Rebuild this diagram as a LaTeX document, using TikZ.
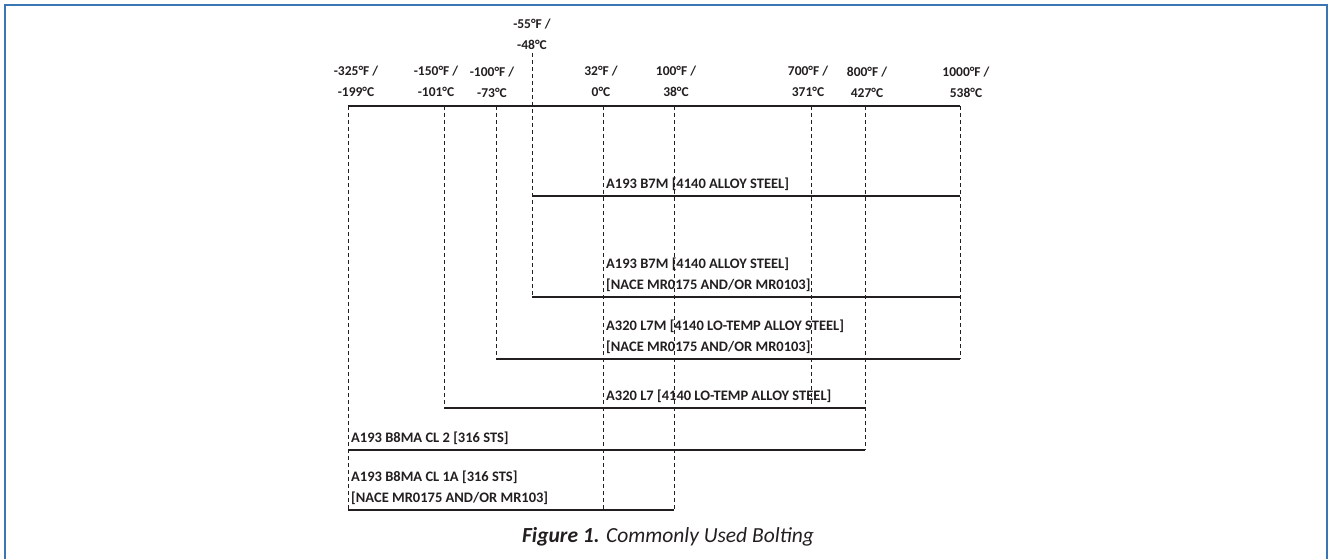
\documentclass[tikz,border=0pt]{standalone}
\usepackage{fontspec}
\setmainfont{Carlito}
\usetikzlibrary{positioning}
\definecolor{frameblue}{RGB}{58,118,178}
\definecolor{ink}{RGB}{35,31,32}
\tikzset{
  temp/.style={font=\bfseries\fontsize{13.5}{21}\selectfont, align=center, inner sep=0pt, text=ink},
  grade/.style={font=\bfseries\fontsize{14.5}{21}\selectfont, align=left, anchor=south west, inner sep=0pt, text=ink},
  guide/.style={draw=ink, line width=0.9pt, dash pattern=on 4pt off 3pt},
  bar/.style={draw=ink, line width=1.2pt},
  frame/.style={draw=frameblue, line width=2.2pt},
}
\begin{document}
\begin{tikzpicture}[x=1pt,y=-1pt]
      \useasboundingbox (0,0) rectangle (1332,559);
      \draw[frame] (5,559) -- (5,5) -- (1327,5) -- (1327,559);
      % temperature marks
      \draw
        (356,81) node[temp] (t325){-325°F /\\-199°C}
        (436,81) node[temp] (t150){-150°F /\\-101°C}
        (492,82) node[temp] (t100){-100°F /\\-73°C}
        (532,34) node[temp] (t55){-55°F /\\-48°C}
        (601,81) node[temp] (t32){32°F /\\0°C}
        (676,81) node[temp] (t100p){100°F /\\38°C}
        (808,81) node[temp] (t700){700°F /\\371°C}
        (867,82) node[temp] (t800){800°F /\\427°C}
        (966,82) node[temp] (t1000){1000°F /\\538°C};
      \coordinate (a325) at (348,106);
      \coordinate (a150) at (444,106);
      \coordinate (a100) at (496,106);
      \coordinate (a55) at (532,53);
      \coordinate (a32) at (603,106);
      \coordinate (a100p) at (674,106);
      \coordinate (a700) at (811,106);
      \coordinate (a800) at (865,106);
      \coordinate (a1000) at (960,106);
      % bars
      \coordinate (b1w) at (532,196); \coordinate (b1e) at (960,196);
      \coordinate (b2w) at (532,297); \coordinate (b2e) at (960,297);
      \coordinate (b3w) at (496,359); \coordinate (b3e) at (960,359);
      \coordinate (b4w) at (444,408); \coordinate (b4e) at (865,408);
      \coordinate (b5w) at (348,450); \coordinate (b5e) at (865,450);
      \coordinate (b6w) at (348,510); \coordinate (b6e) at (674,510);
      \begin{scope}[guide]
        \draw (a325) to (b6w);
        \draw (a150) to (b4w);
        \draw (a100) to (b3w);
        \draw (a55) to (b2w);
        \draw (a32) to (a32 |- b6w);
        \draw (a100p) to (b6e);
        \draw (a700) to (a700 |- b4w);
        \draw (a800) to (b5e);
        \draw (a1000) to (b3e);
      \end{scope}
      \begin{scope}[bar]
        \draw (a325) to (a1000);
        \draw (b1w) to (b1e);
        \draw (b2w) to (b2e);
        \draw (b3w) to (b3e);
        \draw (b4w) to (b4e);
        \draw (b5w) to (b5e);
        \draw (b6w) to (b6e);
      \end{scope}
      \draw
        (606,191) node[grade] (g1){A193 B7M {[}4140 ALLOY STEEL{]}}
        (606,292) node[grade] (g2){A193 B7M {[}4140 ALLOY STEEL{]}\\{[}NACE MR0175 AND/OR MR0103{]}}
        (606,354) node[grade] (g3){A320 L7M {[}4140 LO-TEMP ALLOY STEEL{]}\\{[}NACE MR0175 AND/OR MR0103{]}}
        (606,403) node[grade] (g4){A320 L7 {[}4140 LO-TEMP ALLOY STEEL{]}}
        (351,445) node[grade] (g5){A193 B8MA CL 2 {[}316 STS{]}}
        (351,505) node[grade] (g6){A193 B8MA CL 1A {[}316 STS{]}\\{[}NACE MR0175 AND/OR MR103{]}};
      \node[font=\fontsize{21.5}{24}\selectfont, text=ink] (cap) at (668,537)
        {\textbf{\textit{Figure 1.}} \textit{Commonly Used Bolting}};
    \end{tikzpicture}
\end{document}
